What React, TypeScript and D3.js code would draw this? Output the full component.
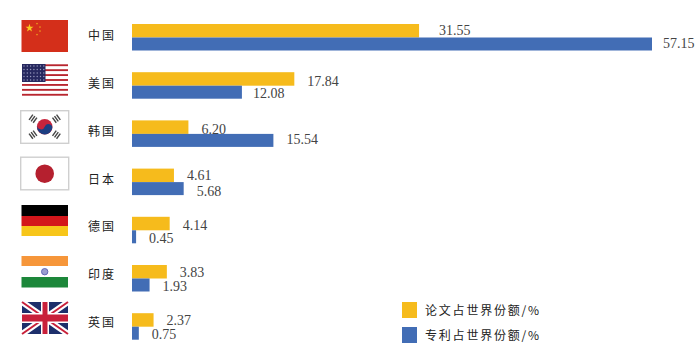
import React from "react";
import * as d3 from "d3";

const countries = ["中国", "美国", "韩国", "日本", "德国", "印度", "英国"];
const paperShare = [31.55, 17.84, 6.2, 4.61, 4.14, 3.83, 2.37];
const patentShare = [57.15, 12.08, 15.54, 5.68, 0.45, 1.93, 0.75];
const paperLabelText = ["31.55", "17.84", "6.20", "4.61", "4.14", "3.83", "2.37"];
const patentLabelText = ["57.15", "12.08", "15.54", "5.68", "0.45", "1.93", "0.75"];
const legendLabels = ["论文占世界份额/%", "专利占世界份额/%"];

const YELLOW = "#F6BB1C";
const BLUE = "#426DB5";
const TEXT = "#444";

const x = d3.scaleLinear().domain([0, 57.15]).range([132, 652]);
const y = d3.scaleBand<string>().domain(countries).range([13.4, 350.8]);
const labelY = d3.scalePoint<string>().domain(countries).range([37, 323.5]);
const BAR_H = 13;

// hand-placed label nudges (px) from the bar end and row centre
const paperDx = [20, 13, 13, 13, 13, 13, 13];
const patentDx = [11, 11, 13, 13, 13, 13, 13];
const paperDy = [-6, -3.2, -3.5, -5.5, -3.5, -5, -5.2];
const patentDy = [7, 8.8, 6.5, 10.5, 9.2, 9, 8.8];

const Star = ({ cx, cy, r, rot = 0 }: { cx: number; cy: number; r: number; rot?: number }) => {
  const pts = d3.range(10).map((i) => {
    const a = -Math.PI / 2 + rot + (i * Math.PI) / 5;
    const rr = i % 2 ? r * 0.4 : r;
    return `${cx + rr * Math.cos(a)},${cy + rr * Math.sin(a)}`;
  });
  return <polygon points={pts.join(" ")} fill="#F8C820" />;
};

const China = () => (
  <g>
    <rect x={21.5} y={20} width={46.5} height={32} fill="#D42F1A" />
    <Star cx={29.5} cy={28} r={4.2} />
    <Star cx={37} cy={23.5} r={1.1} />
    <Star cx={40} cy={27} r={1.1} />
    <Star cx={40} cy={31} r={1.1} />
    <Star cx={37} cy={34.5} r={1.1} />
  </g>
);

const USA = () => {
  const h = 32 / 13;
  return (
    <g>
      <rect x={22} y={64} width={46} height={32} fill="#fff" />
      {d3.range(0, 13, 2).map((i) => (
        <rect key={i} x={22} y={64 + i * h + 0.3} width={46} height={h - 0.6} fill="#B8262F" />
      ))}
      <rect x={22} y={64} width={23.5} height={18} fill="#26285F" />
      {d3.range(0, 5).map((r) =>
        d3.range(0, 7).map((c) => (
          <circle key={`${r}-${c}`} cx={24 + c * 3.3} cy={66 + r * 3.5} r={0.7} fill="#9A9CC0" />
        ))
      )}
    </g>
  );
};

const Korea = () => {
  const cx = 44.7;
  const cy = 126.7;
  const trigrams: [number, number][] = [
    [-11.7, -8],
    [11.7, -8],
    [-11.7, 8],
    [11.7, 8],
  ];
  return (
    <g>
      <rect x={20.7} y={110.7} width={48} height={32.6} fill="#fff" stroke="#CFCFCF" strokeWidth={1.4} />
      <circle cx={cx} cy={cy} r={7.8} fill="#C8243C" />
      <path d={`M${cx - 7.8},${cy} A7.8,7.8 0 0 0 ${cx + 7.8},${cy} A3.9,3.9 0 0 0 ${cx},${cy} A3.9,3.9 0 0 1 ${cx - 7.8},${cy} Z`} fill="#1D3E82" transform={`rotate(20 ${cx} ${cy})`} />
      {trigrams.map(([dx, dy], i) => (
        <g key={i} transform={`translate(${cx + dx},${cy + dy}) rotate(${dx * dy > 0 ? -54 : 54})`}>
          <rect x={-3.2} y={-3.2} width={6.4} height={1.4} fill="#444" />
          <rect x={-3.2} y={-0.7} width={6.4} height={1.4} fill="#444" />
          <rect x={-3.2} y={1.8} width={6.4} height={1.4} fill="#444" />
        </g>
      ))}
    </g>
  );
};

const Japan = () => (
  <g>
    <rect x={20.7} y={157.2} width={48} height={32.6} fill="#fff" stroke="#CFCFCF" strokeWidth={1.4} />
    <circle cx={44.7} cy={173.7} r={9.3} fill="#B5202F" />
  </g>
);

const Germany = () => (
  <g>
    <rect x={21.5} y={205} width={46.5} height={11} fill="#000" />
    <rect x={21.5} y={216} width={46.5} height={10} fill="#D3161B" />
    <rect x={21.5} y={226} width={46.5} height={10} fill="#F7C61A" />
  </g>
);

const India = () => (
  <g>
    <rect x={21.5} y={256} width={46.5} height={10} fill="#F6963A" />
    <rect x={21.5} y={277} width={46.5} height={10.5} fill="#1C873A" />
    <circle cx={44.7} cy={271.7} r={3.2} fill="#9A9ED0" stroke="#5A60B0" strokeWidth={0.9} />
  </g>
);

const UK = () => {
  const [x0, x1, y0, y1] = [22, 68, 302, 334];
  return (
    <g>
      <rect x={x0} y={y0} width={x1 - x0} height={y1 - y0} fill="#1D2F6B" />
      <path d={`M${x0},${y0} L${x1},${y1} M${x1},${y0} L${x0},${y1}`} stroke="#fff" strokeWidth={6} />
      <path d={`M${x0},${y0} L${x1},${y1} M${x1},${y0} L${x0},${y1}`} stroke="#C8203A" strokeWidth={2} />
      <rect x={41} y={y0} width={8} height={y1 - y0} fill="#fff" />
      <rect x={x0} y={313} width={x1 - x0} height={10} fill="#fff" />
      <rect x={42.5} y={y0} width={5} height={y1 - y0} fill="#C8203A" />
      <rect x={x0} y={314.5} width={x1 - x0} height={7} fill="#C8203A" />
    </g>
  );
};

const flags = [China, USA, Korea, Japan, Germany, India, UK];

export default function App() {
  const cjk = '"Noto Sans CJK SC", sans-serif';
  const num = '"Liberation Serif", serif';
  return (
    <svg width={700} height={354} style={{ position: "absolute", left: 0, top: 0, background: "#fff" }}>
      {flags.map((F, i) => (
        <F key={i} />
      ))}
      {countries.map((c, i) => {
        const cy = y(c)! + y.bandwidth() / 2;
        return (
          <g key={c}>
            <text x={88} y={labelY(c)} dominantBaseline="middle" fontFamily={cjk} fontSize={12} letterSpacing={2} fill="#222">
              {c}
            </text>
            <rect x={x(0)} y={cy - BAR_H - 0.5} width={x(paperShare[i]) - x(0)} height={BAR_H + 0.5} fill={YELLOW} />
            <rect x={x(0)} y={cy} width={x(patentShare[i]) - x(0)} height={BAR_H} fill={BLUE} />
            <text x={x(paperShare[i]) + paperDx[i]} y={cy + paperDy[i]} dominantBaseline="middle" fontFamily={num} fontSize={14} fill={TEXT}>
              {paperLabelText[i]}
            </text>
            <text x={x(patentShare[i]) + patentDx[i]} y={cy + patentDy[i]} dominantBaseline="middle" fontFamily={num} fontSize={14} fill={TEXT}>
              {patentLabelText[i]}
            </text>
          </g>
        );
      })}
      {legendLabels.map((l, i) => (
        <g key={l}>
          <rect x={402} y={302 + i * 25} width={15} height={16} fill={i === 0 ? YELLOW : BLUE} />
          <text x={425} y={311.5 + i * 25} dominantBaseline="middle" fontFamily={cjk} fontSize={12} letterSpacing={1.8} fill="#222">
            {l}
          </text>
        </g>
      ))}
    </svg>
  );
}
